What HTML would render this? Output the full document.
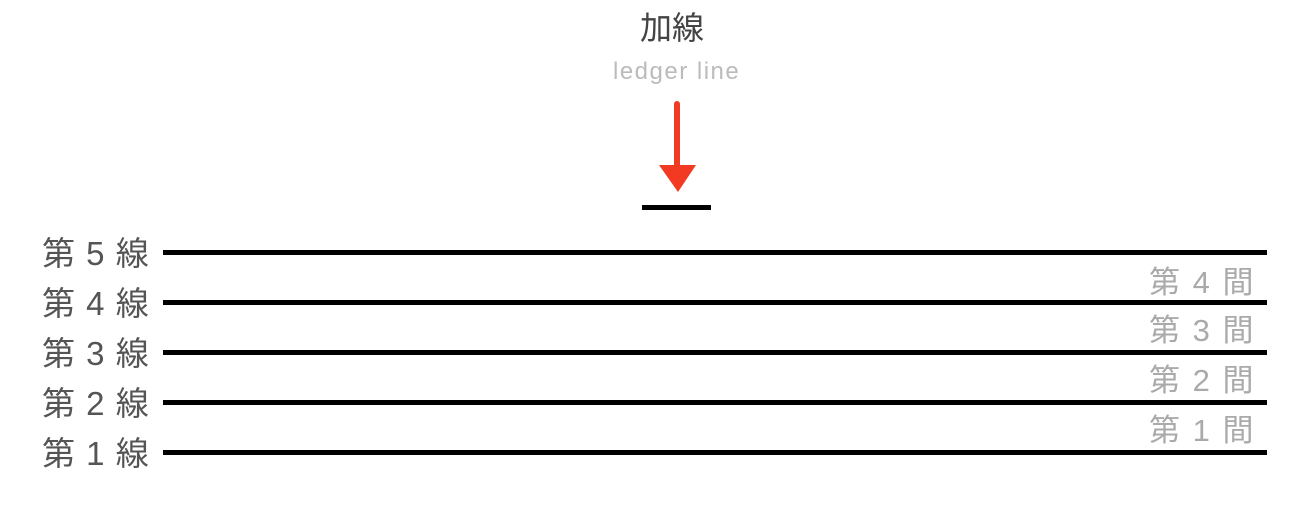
<!DOCTYPE html>
<html><head><meta charset="utf-8"><style>
body{margin:0;width:1305px;height:505px;background:#fff;overflow:hidden;position:relative;font-family:"Liberation Sans","Noto Sans CJK JP",sans-serif}
.t{position:absolute;white-space:nowrap;line-height:1}
.line{position:absolute;left:163px;width:1104px;height:5px;background:#000}
.l{left:42px;font-size:33px;color:#555;letter-spacing:1px}
.r{left:1149px;font-size:31px;color:#aaa;letter-spacing:2px}
</style></head><body>
<div class="t" style="left:640px;top:12px;font-size:32px;color:#444">加線</div>
<div class="t" style="left:613px;top:60px;font-size:24px;color:#bbb;letter-spacing:1.5px">ledger line</div>
<svg style="position:absolute;left:650px;top:100px" width="60" height="95">
<line x1="27" y1="4" x2="27" y2="70" stroke="#f23a22" stroke-width="6" stroke-linecap="round"/>
<polygon points="9,65 46,65 28,92" fill="#f23a22"/>
</svg>
<div style="position:absolute;left:642px;top:205px;width:69px;height:5px;background:#000"></div>
<div class="line" style="top:250px"></div>
<div class="line" style="top:300px"></div>
<div class="line" style="top:350px"></div>
<div class="line" style="top:400px"></div>
<div class="line" style="top:450px"></div>
<div class="t l" style="top:237px">第 5 線</div>
<div class="t l" style="top:287px">第 4 線</div>
<div class="t l" style="top:337px">第 3 線</div>
<div class="t l" style="top:387px">第 2 線</div>
<div class="t l" style="top:437px">第 1 線</div>
<div class="t r" style="top:267px">第 4 間</div>
<div class="t r" style="top:315px">第 3 間</div>
<div class="t r" style="top:365px">第 2 間</div>
<div class="t r" style="top:415px">第 1 間</div>
</body></html>
